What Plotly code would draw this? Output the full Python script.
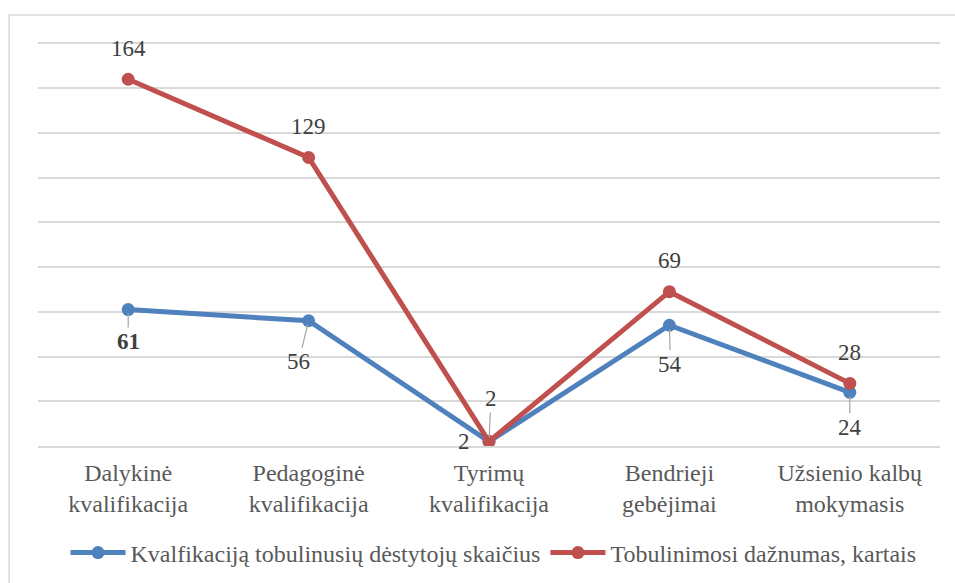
import plotly.graph_objects as go

categories = ["Dalykinė<br>kvalifikacija", "Pedagoginė<br>kvalifikacija", "Tyrimų<br>kvalifikacija",
              "Bendrieji<br>gebėjimai", "Užsienio kalbų<br>mokymasis"]
series_blue_name = "Kvalfikaciją tobulinusių dėstytojų skaičius"
series_red_name = "Tobulinimosi dažnumas, kartais"
blue_values = [61, 56, 2, 54, 24]
red_values = [164, 129, 2, 69, 28]

BLUE = "#4f81bd"
RED = "#c0504d"
FONT = "'Times New Roman', 'Liberation Serif', 'DejaVu Serif', serif"
LABEL_COLOR = "#404040"
TICK_COLOR = "#595959"

fig = go.Figure()
fig.add_trace(go.Scatter(x=categories, y=blue_values, name=series_blue_name, mode="lines+markers",
                         line=dict(color=BLUE, width=5), marker=dict(size=13, color=BLUE)))
fig.add_trace(go.Scatter(x=categories, y=red_values, name=series_red_name, mode="lines+markers",
                         line=dict(color=RED, width=5), marker=dict(size=13, color=RED)))

# label offsets (pixels) : (dx, dy, leader)
red_offsets = [(0, -31, False), (0, -31, False), (2, -43, True), (0, -31, False), (0, -31, False)]
blue_offsets = [(0, 32, True), (-10, 41, True), (-25, 0, False), (1, 39, True), (0, 35, True)]

def add_labels(values, offsets, bold_idx=None):
    for i, (v, (dx, dy, leader)) in enumerate(zip(values, offsets)):
        txt = f"<b>{v}</b>" if bold_idx == i else str(v)
        if leader:
            fig.add_annotation(x=categories[i], y=v, text=txt, showarrow=True, ax=dx, ay=dy,
                               arrowhead=0, arrowwidth=1.2, arrowcolor="#a6a6a6", standoff=4,
                               font=dict(family=FONT, size=23, color=LABEL_COLOR))
        else:
            fig.add_annotation(x=categories[i], y=v, text=txt, showarrow=False, xshift=dx, yshift=-dy,
                               font=dict(family=FONT, size=23, color=LABEL_COLOR))

add_labels(red_values, red_offsets)
add_labels(blue_values, blue_offsets, bold_idx=0)

# outer chart border
fig.add_shape(type="rect", xref="paper", yref="paper", x0=-0.032, y0=-0.5, x1=1.2, y1=1.059,
              line=dict(color="#d9d9d9", width=1.5), fillcolor="rgba(0,0,0,0)", layer="below")

fig.update_layout(
    width=955, height=583,
    margin=dict(l=38, r=15, t=39, b=137, autoexpand=False),
    paper_bgcolor="white", plot_bgcolor="white",
    font=dict(family=FONT, size=24, color=TICK_COLOR),
    showlegend=True,
    legend=dict(orientation="h", x=0.505, xanchor="center", yref="container", y=1 - 553 / 583,
                yanchor="middle",
                font=dict(family=FONT, size=24, color=TICK_COLOR), itemwidth=55,
                bgcolor="rgba(0,0,0,0)"),
    xaxis=dict(type="category", range=[-0.5, 4.5], showgrid=False, showline=True, automargin=False,
               linecolor="#d9d9d9", linewidth=2, ticks="", ticklabelstandoff=4,
               tickfont=dict(family=FONT, size=24, color=TICK_COLOR)),
    yaxis=dict(range=[0, 182], tickvals=[20, 40, 60, 80, 100, 120, 140, 160, 180], showticklabels=False,
               automargin=False,
               showgrid=True, gridcolor="#d9d9d9", gridwidth=2, zeroline=False, showline=False, ticks=""),
)

fig.write_html("out.html", config={"displayModeBar": False},
               post_script="document.body.style.margin='0';")
